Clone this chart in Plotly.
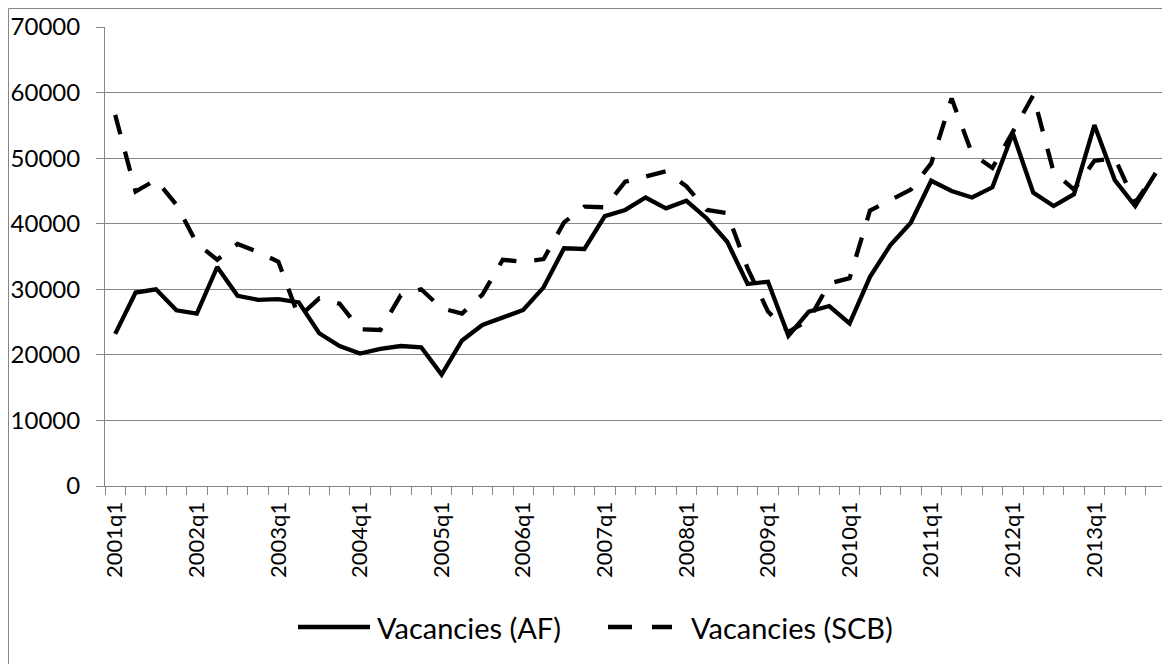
import plotly.graph_objects as go

# Quarterly category labels 2001q1 .. 2013q4
quarters = [f"{y}q{q}" for y in range(2001, 2014) for q in range(1, 5)]

# Vacancies reported by Arbetsförmedlingen (AF)
vacancies_af = [23200, 29500, 30000, 26800, 26300, 33400, 29000, 28400, 28500, 28000,
                23300, 21350, 20200, 20900, 21350, 21150, 17000, 22200, 24550, 25700,
                26840, 30300, 36250, 36150, 41150, 42100, 44000, 42350, 43500, 40800,
                37250, 30800, 31150, 22900, 26600, 27450, 24800, 31900, 36750, 40150,
                46550, 45000, 44000, 45550, 53800, 44750, 42700, 44500, 55050, 46650,
                42700, 47700]

# Vacancies reported by Statistics Sweden (SCB)
vacancies_scb = [56600, 44900, 46700, 42900, 37000, 34500, 36900, 35700, 34200, 25800,
                 28600, 27800, 23900, 23800, 29100, 30000, 27100, 26300, 29200, 34500,
                 34200, 34600, 40200, 42600, 42500, 46400, 47200, 48000, 45700, 42100,
                 41600, 33200, 26600, 23500, 25300, 30900, 31700, 42000, 43600, 45200,
                 49200, 59100, 50700, 48500, 54000, 59600, 47900, 45200, 49600, 50000,
                 43200, 47700]

series_names = ["Vacancies (AF)", "Vacancies (SCB)"]
y_ticks = [0, 10000, 20000, 30000, 40000, 50000, 60000, 70000]

W, H = 1162, 664
ML, MR, MT, MB = 105, 0, 27, 178
PW, PH = W - ML - MR, H - MT - MB
GRID = "#868686"
FONT = "Lato"

idx = list(range(len(quarters)))
label_idx = idx[::4]

fig = go.Figure()
fig.add_trace(go.Scatter(x=idx, y=vacancies_af, mode="lines", name=series_names[0],
                         line=dict(color="black", width=4.3), showlegend=False))
fig.add_trace(go.Scatter(x=idx, y=vacancies_scb, mode="lines", name=series_names[1],
                         line=dict(color="black", width=4.3, dash="20px,18px"),
                         showlegend=False))


def px_x(px):
    return (px - ML) / PW


def px_y(py):
    return (H - MB - py) / PH


shapes = [
    # outer chart frame
    dict(type="line", xref="paper", yref="paper", x0=px_x(8.5), x1=px_x(8.5),
         y0=px_y(8.5), y1=px_y(700), line=dict(color=GRID, width=1)),
    dict(type="line", xref="paper", yref="paper", x0=px_x(8.5), x1=px_x(1200),
         y0=px_y(8.5), y1=px_y(8.5), line=dict(color=GRID, width=1)),
    # legend samples
    dict(type="line", xref="paper", yref="paper", x0=px_x(298), x1=px_x(370),
         y0=px_y(627), y1=px_y(627), line=dict(color="black", width=4.3)),
    dict(type="line", xref="paper", yref="paper", x0=px_x(608), x1=px_x(672),
         y0=px_y(627), y1=px_y(627), line=dict(color="black", width=4.3, dash="24px,20px")),
]

annotations = [
    dict(xref="paper", yref="paper", x=px_x(375), y=px_y(627), text=series_names[0],
         showarrow=False, xanchor="left", yanchor="middle",
         font=dict(family=FONT, size=29, color="black")),
    dict(xref="paper", yref="paper", x=px_x(689), y=px_y(627), text=series_names[1],
         showarrow=False, xanchor="left", yanchor="middle",
         font=dict(family=FONT, size=29, color="black")),
]

fig.update_layout(
    width=W, height=H,
    margin=dict(l=ML, r=MR, t=MT, b=MB),
    paper_bgcolor="white", plot_bgcolor="white",
    font=dict(family=FONT, color="black"),
    shapes=shapes, annotations=annotations,
    showlegend=False,
    xaxis=dict(
        range=[-0.5, -0.5 + PW / 20.4],
        tickmode="array", tickvals=label_idx, ticktext=[quarters[i] for i in label_idx],
        tickangle=-90, ticks="", ticklen=0, ticklabelstandoff=6,
        tickfont=dict(family=FONT, size=22, color="black"),
        showgrid=False, zeroline=False,
        showline=True, linecolor=GRID, linewidth=1,
        minor=dict(ticks="outside", ticklen=8, tickcolor=GRID, tickwidth=1,
                   tickmode="linear", tick0=-0.5, dtick=1, showgrid=False),
    ),
    yaxis=dict(
        range=[0, 70000], tickmode="array", tickvals=y_ticks,
        ticktext=[str(v) for v in y_ticks],
        ticks="outside", ticklen=8, tickcolor=GRID, tickwidth=1,
        ticklabelstandoff=11,
        tickfont=dict(family=FONT, size=24, color="black"),
        showgrid=True, gridcolor=GRID, gridwidth=1,
        zeroline=False, showline=True, linecolor=GRID, linewidth=1,
    ),
)

fig.write_html("out.html")
